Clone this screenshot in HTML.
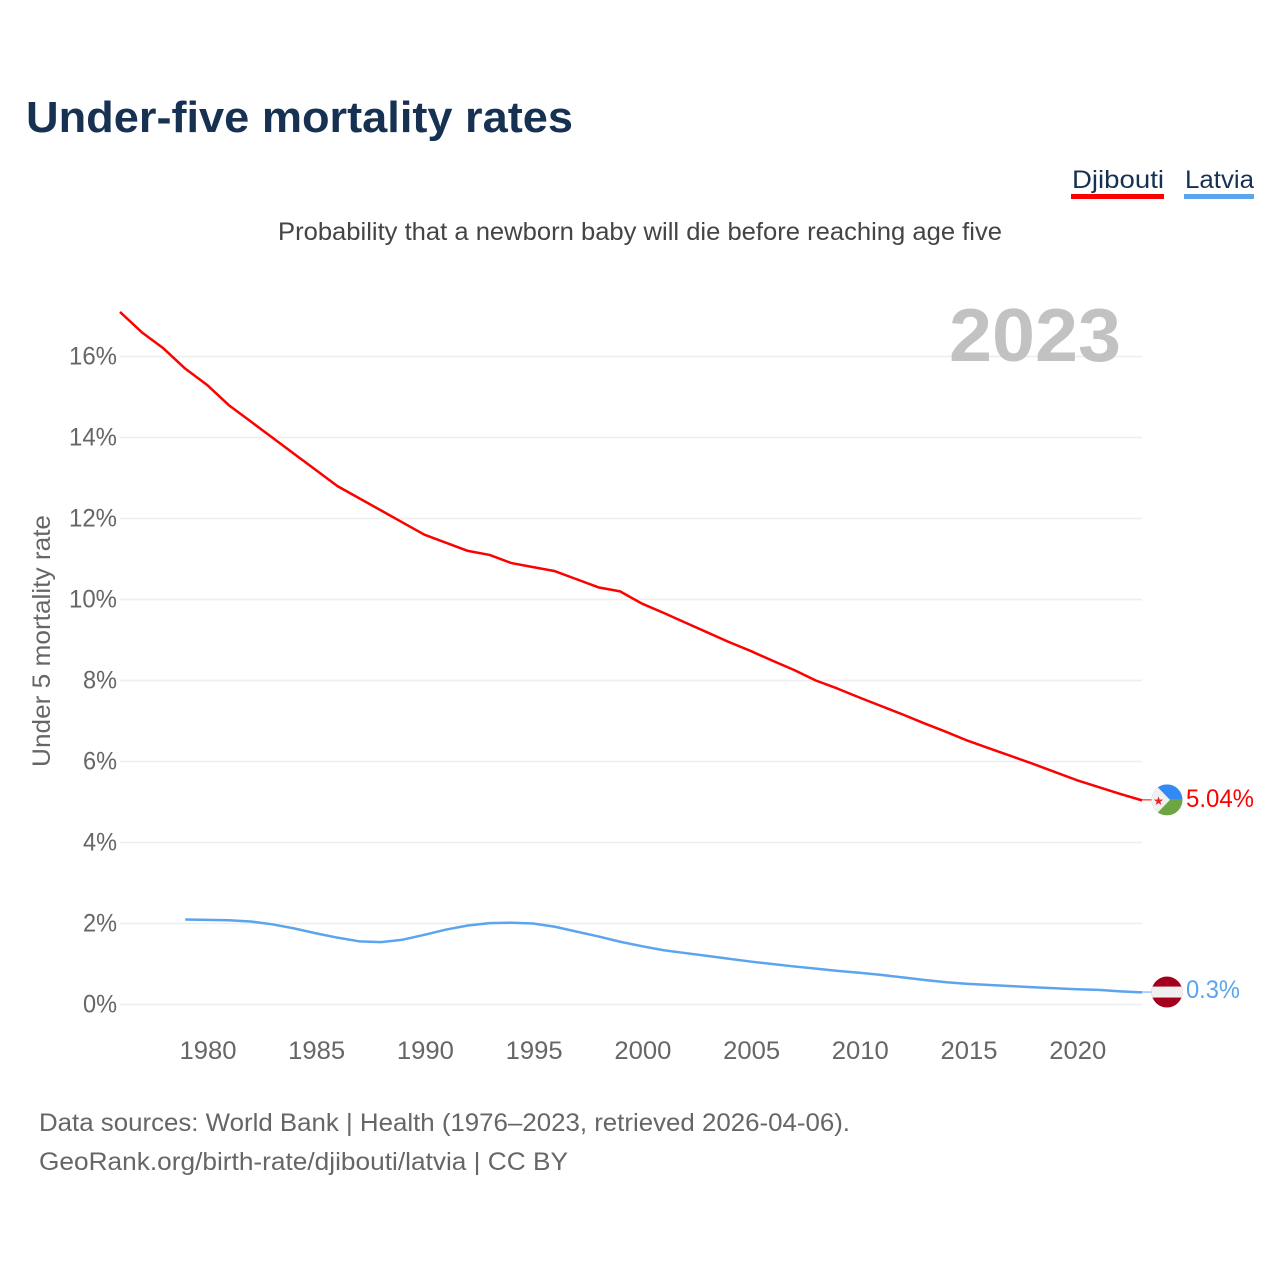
<!DOCTYPE html>
<html lang="en">
<head>
<meta charset="utf-8">
<title>Under-five mortality rates</title>
<style>
html,body{margin:0;padding:0;background:#fff;width:1280px;height:1280px;overflow:hidden}
svg{display:block}
text{font-family:"Liberation Sans",sans-serif}
.tick{font-size:25px;fill:#666}
</style>
</head>
<body>
<svg id="chart" xmlns="http://www.w3.org/2000/svg" width="1280" height="1280" viewBox="0 0 1280 1280">
  <rect width="1280" height="1280" fill="#fff"/>
  <text x="26" y="132" font-size="44" font-weight="700" fill="#173153" textLength="547" lengthAdjust="spacingAndGlyphs">Under-five mortality rates</text>
  <text x="278" y="240" font-size="25" fill="#444" textLength="724" lengthAdjust="spacingAndGlyphs">Probability that a newborn baby will die before reaching age five</text>

  <g>
    <text x="1072" y="188" font-size="25" fill="#173153" textLength="92" lengthAdjust="spacingAndGlyphs">Djibouti</text>
    <rect x="1071" y="194" width="93" height="5" fill="#ff0000"/>
  </g>
  <g>
    <text x="1185" y="188" font-size="25" fill="#173153" textLength="69" lengthAdjust="spacingAndGlyphs">Latvia</text>
    <rect x="1184" y="194" width="70" height="5" fill="#5ba4ee"/>
  </g>

  <g id="grid"></g>
  <g id="yticks"></g>
  <g id="xticks"></g>
  <text transform="translate(50,641) rotate(-90)" text-anchor="middle" font-size="25" fill="#666" textLength="252" lengthAdjust="spacingAndGlyphs">Under 5 mortality rate</text>
  <text x="949" y="361" font-size="75" font-weight="700" fill="#bfbfbf" fill-opacity="0.95" textLength="172" lengthAdjust="spacingAndGlyphs">2023</text>
  <g id="series"></g>
  <g id="ends"></g>

  <text x="39" y="1131" font-size="25" fill="#666" textLength="811" lengthAdjust="spacingAndGlyphs">Data sources: World Bank | Health (1976–2023, retrieved 2026-04-06).</text>
  <text x="39" y="1170" font-size="25" fill="#666" textLength="529" lengthAdjust="spacingAndGlyphs">GeoRank.org/birth-rate/djibouti/latvia | CC BY</text>
</svg>
<script>
const djiboutiStartYear = 1976;
const djiboutiValues = [17.1,16.6,16.2,15.7,15.3,14.8,14.4,14.0,13.6,13.2,12.8,12.5,12.2,11.9,11.6,11.4,11.2,11.1,10.9,10.8,10.7,10.5,10.3,10.2,9.9,9.67,9.43,9.19,8.95,8.73,8.49,8.26,8.0,7.8,7.58,7.37,7.16,6.94,6.73,6.51,6.32,6.13,5.94,5.74,5.54,5.37,5.2,5.04];
const latviaStartYear = 1979;
const latviaValues = [2.1,2.09,2.08,2.05,1.98,1.88,1.76,1.65,1.56,1.54,1.6,1.72,1.85,1.95,2.01,2.02,2.0,1.92,1.8,1.68,1.55,1.44,1.34,1.27,1.2,1.13,1.06,1.0,0.94,0.885,0.83,0.785,0.73,0.67,0.605,0.55,0.51,0.48,0.455,0.425,0.4,0.375,0.36,0.325,0.3];
const yTickValues = [0,2,4,6,8,10,12,14,16];
const xTickYears = [1980,1985,1990,1995,2000,2005,2010,2015,2020];
const djiboutiEndLabel = "5.04%";
const latviaEndLabel = "0.3%";

const NS = "http://www.w3.org/2000/svg";
const xScale = year => 120 + (year - 1976) * (1142 - 120) / 47;
const yScale = value => 1004.5 - value * 40.5;
function make(tag, attrs, parent) {
  const el = document.createElementNS(NS, tag);
  for (const k in attrs) el.setAttribute(k, attrs[k]);
  parent.appendChild(el);
  return el;
}
const grid = document.getElementById("grid");
const yticks = document.getElementById("yticks");
const xticks = document.getElementById("xticks");
const series = document.getElementById("series");
const ends = document.getElementById("ends");

yTickValues.forEach(v => {
  const line = make("line", {x1:120, x2:1142, y1:yScale(v), y2:yScale(v), stroke:"#eeeeee", "stroke-width":1.6}, grid);
  
  
  const label = v + "%";
  const t = make("text", {x:117, y:yScale(v) + 8, "text-anchor":"end", class:"tick", textLength: label.length === 3 ? 48 : 34, lengthAdjust:"spacingAndGlyphs"}, yticks);
  
  
  t.textContent = label;
});
xTickYears.forEach(y => {
  const t = make("text", {x:xScale(y) + 1, y:1059, "text-anchor":"middle", class:"tick", textLength:57, lengthAdjust:"spacingAndGlyphs"}, xticks);
  
  
  t.textContent = y;
});
function pathFor(values, startYear) {
  return values.map((v, i) => (i ? "L" : "M") + xScale(startYear + i).toFixed(2) + " " + yScale(v).toFixed(2)).join("");
}
const djLine = make("path", {d:pathFor(djiboutiValues, djiboutiStartYear), fill:"none", stroke:"#ff0000", "stroke-width":2.5, "stroke-linejoin":"round"}, series);


const lvLine = make("path", {d:pathFor(latviaValues, latviaStartYear), fill:"none", stroke:"#5ba4ee", "stroke-width":2.5, "stroke-linejoin":"round"}, series);



const FLAG_X = 1167, R = 15.5;
const djY = yScale(djiboutiValues[djiboutiValues.length - 1]) - 0.5;
const lvY = yScale(latviaValues[latviaValues.length - 1]) - 0.3;

const djStub = make("line", {x1:1142, x2:1152, y1:djY, y2:djY, stroke:"#ff0000", "stroke-width":1}, ends);


const lvStub = make("line", {x1:1142, x2:1152, y1:lvY, y2:lvY, stroke:"#5ba4ee", "stroke-width":1}, ends);



/* Djibouti flag */
const defs = make("defs", {}, ends);
const cp1 = make("clipPath", {id:"clipDj"}, defs);
make("circle", {cx:FLAG_X, cy:djY, r:R}, cp1);
const cp2 = make("clipPath", {id:"clipLv"}, defs);
make("circle", {cx:FLAG_X, cy:lvY, r:R}, cp2);
const dj = make("g", {}, ends);


dj.setAttribute("clip-path", "url(#clipDj)");
make("rect", {x:FLAG_X-R, y:djY-R, width:2*R, height:R, fill:"#338af3"}, dj);
make("rect", {x:FLAG_X-R, y:djY, width:2*R, height:R, fill:"#6da544"}, dj);
make("path", {d:`M${FLAG_X-R} ${djY-R}L${FLAG_X-12} ${djY-R}L${FLAG_X+3} ${djY}L${FLAG_X-12} ${djY+R}L${FLAG_X-R} ${djY+R}Z`, fill:"#f0f0f0"}, dj);
const star = make("text", {x:FLAG_X-8.5, y:djY+5, "text-anchor":"middle", "font-size":12, fill:"#e8202a"}, dj);
star.textContent = "★";

/* Latvia flag */
const lv = make("g", {}, ends);


lv.setAttribute("clip-path", "url(#clipLv)");
make("rect", {x:FLAG_X-R, y:lvY-R, width:2*R, height:2*R, fill:"#a2001d"}, lv);
make("rect", {x:FLAG_X-R, y:lvY-5.5, width:2*R, height:11, fill:"#f0f0f0"}, lv);

const djLabel = make("text", {x:1186, y:djY + 7, "font-size":25, fill:"#ff0000", textLength:68, lengthAdjust:"spacingAndGlyphs"}, ends);


djLabel.textContent = djiboutiEndLabel;
const lvLabel = make("text", {x:1186, y:lvY + 6, "font-size":25, fill:"#5ba4ee", textLength:54, lengthAdjust:"spacingAndGlyphs"}, ends);


lvLabel.textContent = latviaEndLabel;
</script>
</body>
</html>
